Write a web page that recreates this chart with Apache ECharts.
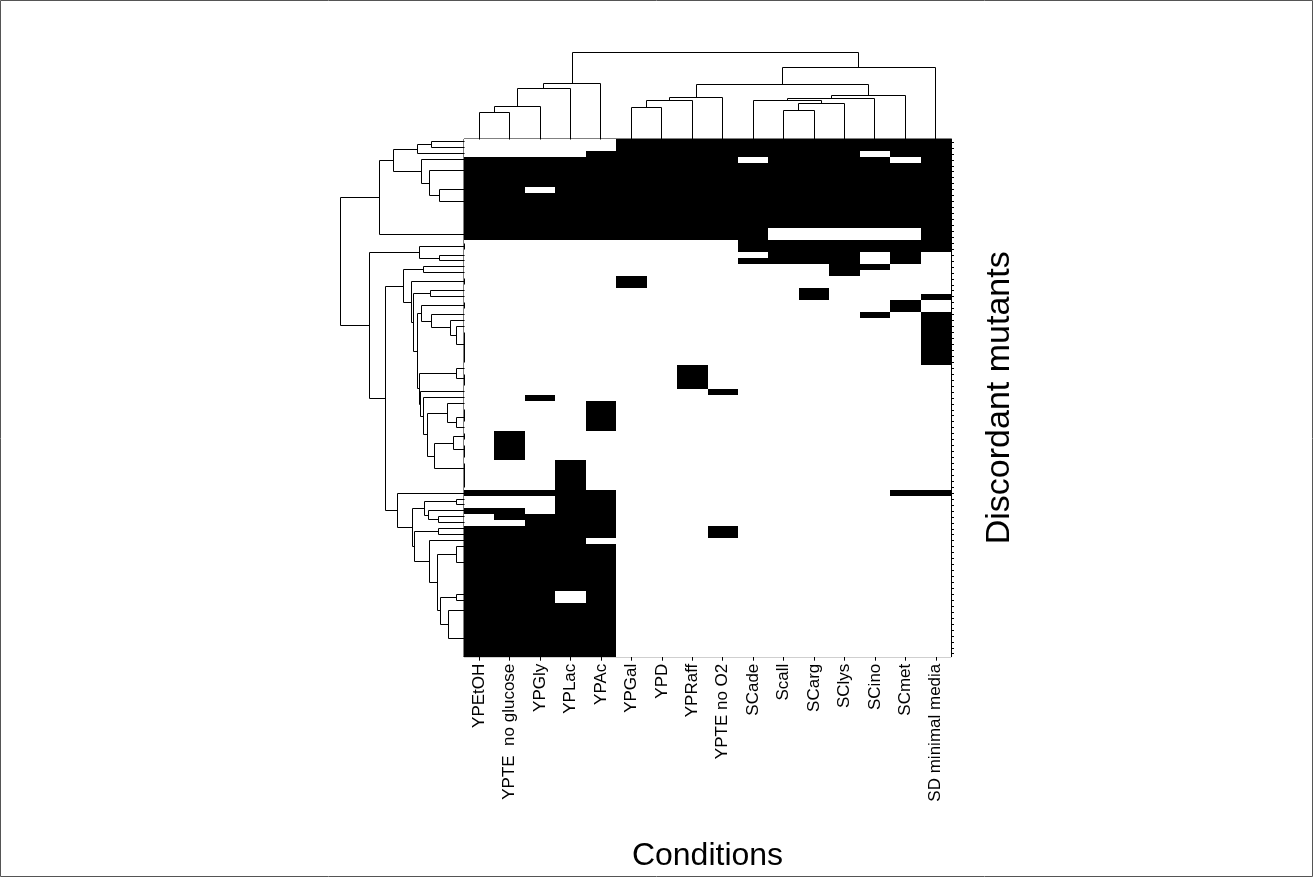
<!DOCTYPE html>
<html><head><meta charset="utf-8">
<script src="https://cdn.jsdelivr.net/npm/echarts@6/dist/echarts.min.js"></script>
<style>html,body{margin:0;padding:0;background:#fff}#c{width:1314px;height:878px}</style>
</head><body><div id="c"></div><script>
// ---- data ----
const conditions = ['YPEtOH','YPTE  no glucose','YPGly','YPLac','YPAc','YPGal','YPD','YPRaff','YPTE no O2','SCade','Scall','SCarg','SClys','SCino','SCmet','SD minimal media'];

// one string per mutant (top to bottom), one character per condition: 1 = black, 0 = white
const mutantRows = [
'0000011111111111','0000011111111111','0000111111111011','1111111110111101',
'1111111111111111','1111111111111111','1111111111111111','1111111111111111',
'1101111111111111','1111111111111111','1111111111111111','1111111111111111',
'1111111111111111','1111111111111111','1111111111111111','1111111111000001',
'1111111111000001','0000000001111111','0000000001111111','0000000000111010',
'0000000001111010','0000000000001100','0000000000001000','0000010000000000',
'0000010000000000','0000000000010000','0000000000010001','0000000000000010',
'0000000000000010','0000000000000101','0000000000000001','0000000000000001',
'0000000000000001','0000000000000001','0000000000000001','0000000000000001',
'0000000000000001','0000000000000001','0000000100000000','0000000100000000',
'0000000100000000','0000000100000000','0000000010000000','0010000000000000',
'0000100000000000','0000100000000000','0000100000000000','0000100000000000',
'0000100000000000','0100000000000000','0100000000000000','0100000000000000',
'0100000000000000','0100000000000000','0001000000000000','0001000000000000',
'0001000000000000','0001000000000000','0001000000000000','1111100000000011',
'0001100000000000','0001100000000000','1101100000000000','0111100000000000',
'0011100000000000','1111100010000000','1111100010000000','1111000000000000',
'1111100000000000','1111100000000000','1111100000000000','1111100000000000',
'1111100000000000','1111100000000000','1111100000000000','1111100000000000',
'1110100000000000','1110100000000000','1111100000000000','1111100000000000',
'1111100000000000','1111100000000000','1111100000000000','1111100000000000',
'1111100000000000','1111100000000000','1111100000000000'
];

// column dendrogram: [mergeHeight, left, right]; numbers are column indices
const colLeft = [55.8, [50.2, [32.8, [26.2, 0, 1], 2], 3], 4];
const colMid  = [41.8, [38.2, [31.2, 5, 6], 7], 8];
const colSC   = [43.5, [40.2, [38.2, 9, [35.5, [28.2, 10, 11], 12]], 13], 14];
const colTree = [86.5, colLeft, [71.2, [54.2, colMid, colSC], 15]];

// row dendrogram: [mergeHeight, left, right]; numbers are row indices (top to bottom)
const topA1   = [46.3, [33, 0, 1], 2];
const topRun4 = [0, 4, [0, 5, [0, 6, 7]]];
const topRun9 = [0, 9, [0, 10, [0, 11, [0, 12, [0, 13, 14]]]]];
const topA2   = [43, 3, [34.3, topRun4, [24.3, 8, topRun9]]];
const rowTop  = [85, [70.3, topA1, topA2], [0, 15, 16]];
const midC    = [44.7, [0, 17, 18], [24.3, 19, 20]];
const run31   = [8, 31, [0, [0, 32, 33], [0, [0, 34, 35], [0, 36, 37]]]];
const midG1   = [43, [0, 27, 28], [32.3, 29, [13.7, 30, run31]]];
const run45   = [8, [0, [0, 45, 46], 47], 48];
const run49   = [10.3, [0, 49, 50], [0, 51, [0, 52, 53]]];
const run54   = [0, 54, [0, 55, [0, 56, [0, 57, 58]]]];
const midL    = [36.3, [16.3, 44, run45], [29.7, run49, run54]];
const midG2   = [44.7, [8, 38, [0, 39, [0, 40, 41]]], [43.7, 42, [40.7, 43, midL]]];
const midD1   = [60.3, [41, 21, 22], [53, [0, 23, 24], [50.3, [33.7, 25, 26], [46.3, midG1, midG2]]]];
const run69   = [0, [0, 69, 70], [0, 71, [0, 72, [0, 73, [0, 74, 75]]]]];
const run78   = [15.7, [0, 78, [0, 79, 80]], [0, [0, 81, [0, 82, 83]], [0, [0, 84, 85], 86]]];
const lowT    = [26.3, [7.7, 68, run69], [23.7, [7.7, 76, 77], run78]];
const lowP    = [51.3, [39.7, [7.7, 60, 61], [35.7, 62, [25.3, 63, 64]]], [49.7, [25.3, 65, 66], [34.7, 67, lowT]]];
const midD2   = [66.3, 59, lowP];
const rowTree = [123.7, rowTop, [94.3, midC, [78.7, midD1, midD2]]];

// ---- build ----
const FONT = "'Liberation Sans', Arial, Helvetica, sans-serif";
const rowIds = mutantRows.map((_, i) => String(i));
const cells = [];
mutantRows.forEach((s, r) => { for (let c = 0; c < conditions.length; c++) cells.push([c, r, +s[c]]); });

function layout(node, out) {
  if (typeof node === 'number') return { pos: node, h: 0 };
  const a = layout(node[1], out), b = layout(node[2], out);
  out.push([a.pos, a.h, b.pos, b.h, node[0]]);
  return { pos: (a.pos + b.pos) / 2, h: node[0] };
}
const colLinks = []; layout(colTree, colLinks);
const rowLinks = []; layout(rowTree, rowLinks);

const crisp = p => [Math.round(p[0] - 0.5) + 0.5, Math.round(p[1] - 0.5) + 0.5];
const lineStyle = { stroke: '#000', lineWidth: 1, fill: null };

const chart = echarts.init(document.getElementById('c'), null, { renderer: 'canvas' });
chart.setOption({
  animation: false,
  backgroundColor: '#fff',
  grid: [
    { left: 464, top: 139, width: 487, height: 517.7, show: true, borderColor: '#000', borderWidth: 1, backgroundColor: 'rgba(0,0,0,0)' },
    { left: 464, top: 52.5, width: 487, height: 86.5 },
    { left: 340.3, top: 139, width: 123.7, height: 517.7 }
  ],
  xAxis: [
    { gridIndex: 0, type: 'category', data: conditions, position: 'bottom',
      axisLine: { show: true, lineStyle: { color: '#000', width: 1 } },
      axisTick: { show: true, alignWithLabel: true, interval: 0, length: 4, lineStyle: { color: '#000' } },
      axisLabel: { interval: 0, rotate: 90, margin: 7, fontSize: 17, color: '#000', fontFamily: FONT },
      splitLine: { show: false } },
    { gridIndex: 1, type: 'value', min: -0.5, max: 15.5, show: false },
    { gridIndex: 2, type: 'value', min: 0, max: 123.7, inverse: true, show: false }
  ],
  yAxis: [
    { gridIndex: 0, type: 'category', data: rowIds, inverse: true, position: 'right',
      axisLine: { show: true, lineStyle: { color: '#000', width: 1 } },
      axisTick: { show: true, alignWithLabel: true, interval: 0, length: 3, lineStyle: { color: '#000' } },
      axisLabel: { show: false }, splitLine: { show: false } },
    { gridIndex: 1, type: 'value', min: 0, max: 86.5, show: false },
    { gridIndex: 2, type: 'value', min: -0.5, max: 86.5, inverse: true, show: false }
  ],
  series: [
    { type: 'custom', xAxisIndex: 0, yAxisIndex: 0, data: cells, silent: true, encode: { x: 0, y: 1 },
      renderItem: (params, api) => {
        const c = api.coord([api.value(0), api.value(1)]);
        const s = api.size([1, 1]);
        const x0 = Math.round(c[0] - s[0] / 2), x1 = Math.round(c[0] + s[0] / 2);
        const y0 = Math.round(c[1] - s[1] / 2), y1 = Math.round(c[1] + s[1] / 2);
        return { type: 'rect', shape: { x: x0, y: y0, width: x1 - x0, height: y1 - y0 },
                 style: { fill: api.value(2) ? '#000' : '#fff' } };
      } },
    { type: 'custom', xAxisIndex: 1, yAxisIndex: 1, data: colLinks, silent: true, encode: { x: 0, y: 1 },
      renderItem: (params, api) => ({ type: 'polyline', shape: { points: [
        crisp(api.coord([api.value(0), api.value(1)])), crisp(api.coord([api.value(0), api.value(4)])),
        crisp(api.coord([api.value(2), api.value(4)])), crisp(api.coord([api.value(2), api.value(3)])) ] }, style: lineStyle }) },
    { type: 'custom', xAxisIndex: 2, yAxisIndex: 2, data: rowLinks, silent: true, encode: { x: 1, y: 0 },
      renderItem: (params, api) => ({ type: 'polyline', shape: { points: [
        crisp(api.coord([api.value(1), api.value(0)])), crisp(api.coord([api.value(4), api.value(0)])),
        crisp(api.coord([api.value(4), api.value(2)])), crisp(api.coord([api.value(3), api.value(2)])) ] }, style: lineStyle }) }
  ],
  graphic: [
    { type: 'rect', silent: true, z: -1, shape: { x: 0.5, y: 0.5, width: 1312, height: 876 }, style: { fill: 'none', stroke: '#555', lineWidth: 1 } },
    { type: 'text', x: 707.5, y: 856, silent: true,
      style: { text: 'Conditions', fontSize: 32, fontFamily: FONT, fill: '#000', align: 'center', verticalAlign: 'middle', textAlign: 'center', textVerticalAlign: 'middle' } },
    { type: 'text', x: 1000, y: 397.8, rotation: Math.PI / 2, silent: true,
      style: { text: 'Discordant mutants', fontSize: 34, fontFamily: FONT, fill: '#000', align: 'center', verticalAlign: 'middle', textAlign: 'center', textVerticalAlign: 'middle' } }
  ]
});
</script></body></html>
